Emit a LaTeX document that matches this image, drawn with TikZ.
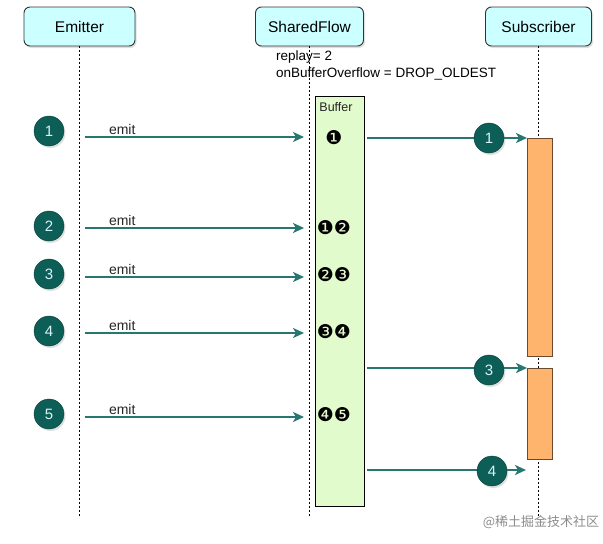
\documentclass[tikz,border=0pt]{standalone}
\usepackage{fontspec}
\setmainfont{Liberation Sans}
\newfontfamily\dingfont{DejaVu Sans}
\newfontfamily\cjkfont{Noto Sans CJK SC}
\usetikzlibrary{arrows.meta,shadows}

\definecolor{headfill}{HTML}{CCFFFF}
\definecolor{stepteal}{HTML}{0D5E56}
\definecolor{arrowteal}{HTML}{27766F}
\definecolor{buffill}{HTML}{E2FBCC}
\definecolor{barfill}{HTML}{FFB46E}
\definecolor{bardraw}{HTML}{6B4A30}

\tikzset{
  headbox/.style={draw=black!80, fill=headfill, rounded corners=6pt, line width=0.9pt,
    minimum height=39pt, inner sep=0pt, font=\fontsize{15.5}{18}\selectfont,
    drop shadow={shadow xshift=1.5pt, shadow yshift=-2pt, opacity=0.25}},
  lifeline/.style={line width=0.9pt, dash pattern=on 2pt off 2pt},
  stepdot/.style={circle, fill=stepteal, draw=stepteal!70!black, minimum size=30pt, inner sep=0pt,
    text=cyan!15, font=\fontsize{15}{17}\selectfont,
    drop shadow={shadow xshift=1.5pt, shadow yshift=-2pt, opacity=0.25}},
  msg/.style={draw=arrowteal, line width=2.2pt, -{Stealth[length=11pt, width=10pt, inset=3pt]}},
  actbar/.style={draw=bardraw, fill=barfill, line width=0.9pt, anchor=north west,
    minimum width=25pt, inner sep=0pt},
  bufval/.style={font=\dingfont\fontsize{19}{21}\selectfont, inner sep=0pt},
  emitlabel/.style={font=\fontsize{14}{16}\selectfont, text=black!85, inner sep=1pt}
}

\begin{document}
\begin{tikzpicture}[x=1pt, y=-1pt]
  \useasboundingbox (0,0) rectangle (603,544);

  % -- Participants --
  \node[headbox, minimum width=111pt] (emitter) at (79.5, 26.5) {Emitter};
  \node[headbox, minimum width=108pt] (flow) at (309.5, 26.5) {SharedFlow};
  \node[headbox, minimum width=106pt] (sub) at (538.5, 26.5) {Subscriber};

  % -- Lifelines --
  \coordinate (emitterEnd) at (79.5, 517);
  \coordinate (flowEnd) at (309.5, 517);
  \coordinate (subEnd) at (538.5, 517);
  \draw[lifeline] (emitter) -- (emitterEnd);
  \draw[lifeline] (flow) -- (flowEnd);
  \draw[lifeline] (sub) -- (subEnd);

  % -- Flow settings --
  \node[anchor=north west, align=left, inner sep=0pt, font=\fontsize{13.5}{17}\selectfont]
    (config) at (276, 51) {replay= 2\\onBufferOverflow = DROP\_OLDEST};

  % -- Buffer --
  \node[draw=black, fill=buffill, line width=0.9pt, anchor=north west,
    minimum width=49pt, minimum height=410pt, inner sep=0pt] (buffer) at (315, 96) {};
  \node[font=\fontsize{12.5}{14}\selectfont, text=black!85] (buflabel) at (336, 107) {Buffer};

  % -- Subscriber activations --
  \node[actbar, minimum height=218pt] (act1) at (527, 138) {};
  \node[actbar, minimum height=91pt] (act2) at (527, 368) {};

  % -- Emit messages --
  \foreach \i/\dy/\ay in {1/131/137, 2/226/228, 3/274/277, 4/331/333, 5/414/417} {
    \node[stepdot] (emit\i) at (49, \dy) {\i};
    \coordinate (emitFrom\i) at (85, \ay);
    \coordinate (emitTo\i) at (304, \ay);
    \draw[msg] (emitFrom\i) -- node[emitlabel, above, pos=0.17] (emitText\i) {emit} (emitTo\i);
  }

  % Buffer contents
  \node[bufval] (buf1) at (334, 138) {❶};
  \node[bufval] (buf2) at (334, 228) {❶❷};
  \node[bufval] (buf3) at (334, 275) {❷❸};
  \node[bufval] (buf4) at (334, 332) {❸❹};
  \node[bufval] (buf5) at (334, 415) {❹❺};

  % -- Deliveries to subscriber --
  \coordinate (outFrom1) at (367, 138);
  \coordinate (outFrom3) at (367, 368);
  \coordinate (outFrom4) at (367, 470);
  \coordinate (outTo4) at (526, 470);
  \draw[msg] (outFrom1) -- (act1.north west);
  \draw[msg] (outFrom3) -- (act2.north west);
  \draw[msg] (outFrom4) -- (outTo4);
  \node[stepdot] (recv1) at (489, 138) {1};
  \node[stepdot] (recv3) at (489, 370) {3};
  \node[stepdot] (recv4) at (492, 471) {4};

  % Watermark
  \node[font=\cjkfont\fontsize{13}{15}\selectfont, text=black!45] (mark) at (541, 522) {@稀土掘金技术社区};

\end{tikzpicture}
\end{document}
